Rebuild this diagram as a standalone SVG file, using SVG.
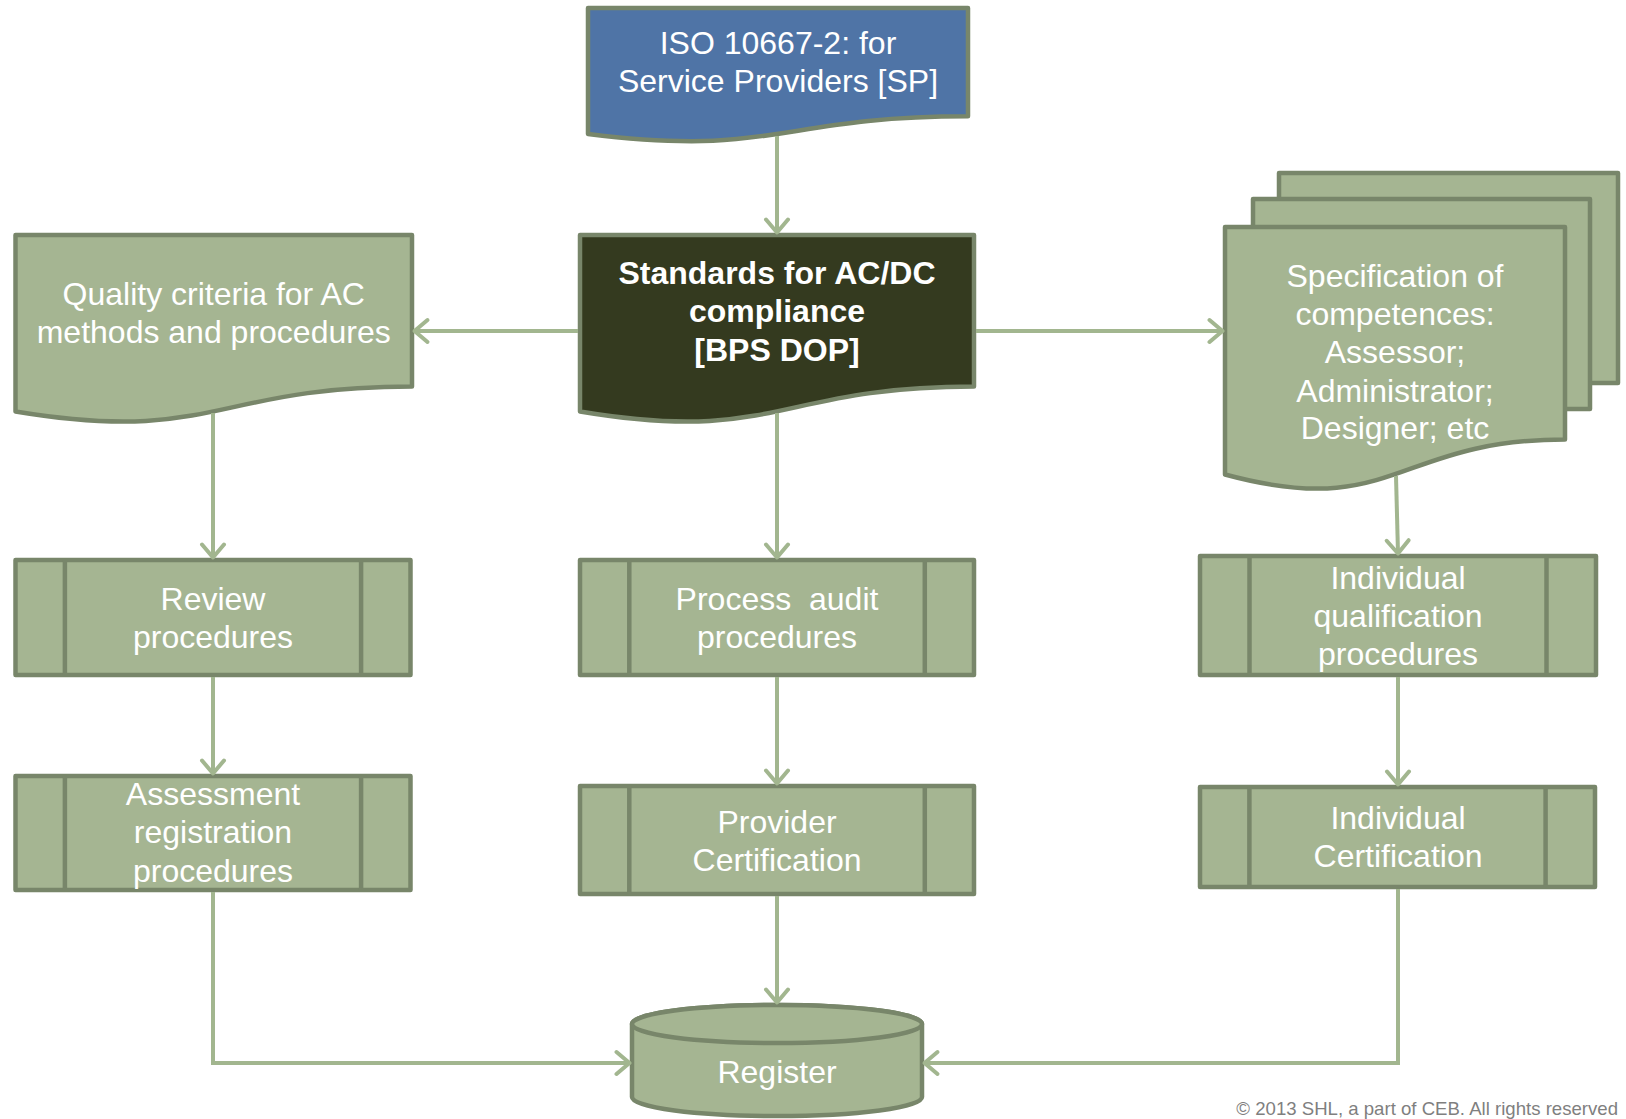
<svg xmlns="http://www.w3.org/2000/svg" width="1626" height="1119" viewBox="0 0 1626 1119">
<style>
.sh{stroke:#78866A;stroke-width:4.5;stroke-linejoin:round}
.g{fill:#A5B592}
.b{fill:#4F74A6}
.d{fill:#343A1F}
.t{font-family:"Liberation Sans",Arial,sans-serif;font-size:32px;fill:#FFFFFF;text-anchor:middle}
.bold{font-weight:bold}
.c{fill:none;stroke:#A2B68F;stroke-width:4;marker-end:url(#ah)}
.ft{font-family:"Liberation Sans",Arial,sans-serif;font-size:18.6px;fill:#7F7F7F;text-anchor:end}
</style>
<defs>
<marker id="ah" markerUnits="userSpaceOnUse" markerWidth="30" markerHeight="30" viewBox="0 0 30 30" refX="16" refY="15" orient="auto">
<path d="M3,4 L16,15 L3,26" fill="none" stroke="#A2B68F" stroke-width="4" stroke-linejoin="round" stroke-linecap="round"/>
</marker>
</defs>
<rect width="1626" height="1119" fill="#FFFFFF"/>

<g id="iso">
<path class="sh b" d="M588,8 H968 V116.3 C778,116.3 778,157.5 588,134 Z"/>
<text class="t" x="778" y="54">ISO 10667-2: for</text>
<text class="t" x="778" y="92">Service Providers [SP]</text>
</g>

<g id="standards">
<path class="sh d" d="M580,235 H974 V386.6 C777,386.6 777,444.3 580,411.5 Z"/>
<text class="t bold" x="777" y="283.5">Standards for AC/DC</text>
<text class="t bold" x="777" y="322">compliance</text>
<text class="t bold" x="777" y="360.5">[BPS DOP]</text>
</g>

<g id="quality">
<path class="sh g" d="M15.5,235 H412 V386.6 C213.7,386.6 213.7,444.3 15.5,411.5 Z"/>
<text class="t" x="213.7" y="304.5">Quality criteria for AC</text>
<text class="t" x="213.7" y="342.5">methods and procedures</text>
</g>

<g id="spec">
<rect class="sh g" x="1279" y="173" width="339" height="210"/>
<rect class="sh g" x="1253" y="199" width="337" height="210"/>
<path class="sh g" d="M1225,227 H1565 V439.5 C1395,439.5 1395,520.5 1225,474.5 Z"/>
<text class="t" x="1395" y="287">Specification of</text>
<text class="t" x="1395" y="325">competences:</text>
<text class="t" x="1395" y="363">Assessor;</text>
<text class="t" x="1395" y="401.5">Administrator;</text>
<text class="t" x="1395" y="439">Designer; etc</text>
</g>

<g id="review">
<rect class="sh g" x="15.5" y="560" width="395" height="115"/>
<path class="sh" fill="none" d="M64.9,560 V675 M361.1,560 V675"/>
<text class="t" x="213" y="609.5">Review</text>
<text class="t" x="213" y="647.5">procedures</text>
</g>

<g id="assessment">
<rect class="sh g" x="15.5" y="776" width="395" height="114"/>
<path class="sh" fill="none" d="M64.9,776 V890 M361.1,776 V890"/>
<text class="t" x="213" y="805">Assessment</text>
<text class="t" x="213" y="843">registration</text>
<text class="t" x="213" y="881.5">procedures</text>
</g>

<g id="process-audit">
<rect class="sh g" x="580" y="560" width="394" height="115"/>
<path class="sh" fill="none" d="M629.3,560 V675 M924.8,560 V675"/>
<text class="t" x="777" y="609.5" xml:space="preserve">Process  audit</text>
<text class="t" x="777" y="647.5">procedures</text>
</g>

<g id="provider">
<rect class="sh g" x="580" y="786" width="394" height="108"/>
<path class="sh" fill="none" d="M629.3,786 V894 M924.8,786 V894"/>
<text class="t" x="777" y="832.5">Provider</text>
<text class="t" x="777" y="871">Certification</text>
</g>

<g id="ind-qual">
<rect class="sh g" x="1200" y="556" width="396" height="119"/>
<path class="sh" fill="none" d="M1249.5,556 V675 M1546.5,556 V675"/>
<text class="t" x="1398" y="588.5">Individual</text>
<text class="t" x="1398" y="626.5">qualification</text>
<text class="t" x="1398" y="665">procedures</text>
</g>

<g id="ind-cert">
<rect class="sh g" x="1200" y="787" width="395" height="100"/>
<path class="sh" fill="none" d="M1249.4,787 V887 M1545.6,787 V887"/>
<text class="t" x="1398" y="828.5">Individual</text>
<text class="t" x="1398" y="867">Certification</text>
</g>

<g id="register">
<path class="sh g" d="M632,1024 V1097 A145,19 0 0 0 922,1097 V1024 A145,19 0 0 0 632,1024 Z"/>
<ellipse class="sh g" cx="777" cy="1024" rx="145" ry="19"/>
<text class="t" x="777" y="1083">Register</text>
</g>

<g id="connectors">
<path class="c" d="M777,136 V232.5"/>
<path class="c" d="M578,331 H414.5"/>
<path class="c" d="M976,331 H1222.5"/>
<path class="c" d="M213,413 V557.5"/>
<path class="c" d="M777,413 V557.5"/>
<path class="c" d="M1396,476 L1398,553.5"/>
<path class="c" d="M213,677 V773.5"/>
<path class="c" d="M777,677 V783.5"/>
<path class="c" d="M1398,677 V784.5"/>
<path class="c" d="M213,892 V1063 H629.5"/>
<path class="c" d="M777,896 V1002.5"/>
<path class="c" d="M1398,889 V1063 H924.5"/>
</g>

<text class="ft" x="1618" y="1115">© 2013 SHL, a part of CEB. All rights reserved</text>
</svg>
